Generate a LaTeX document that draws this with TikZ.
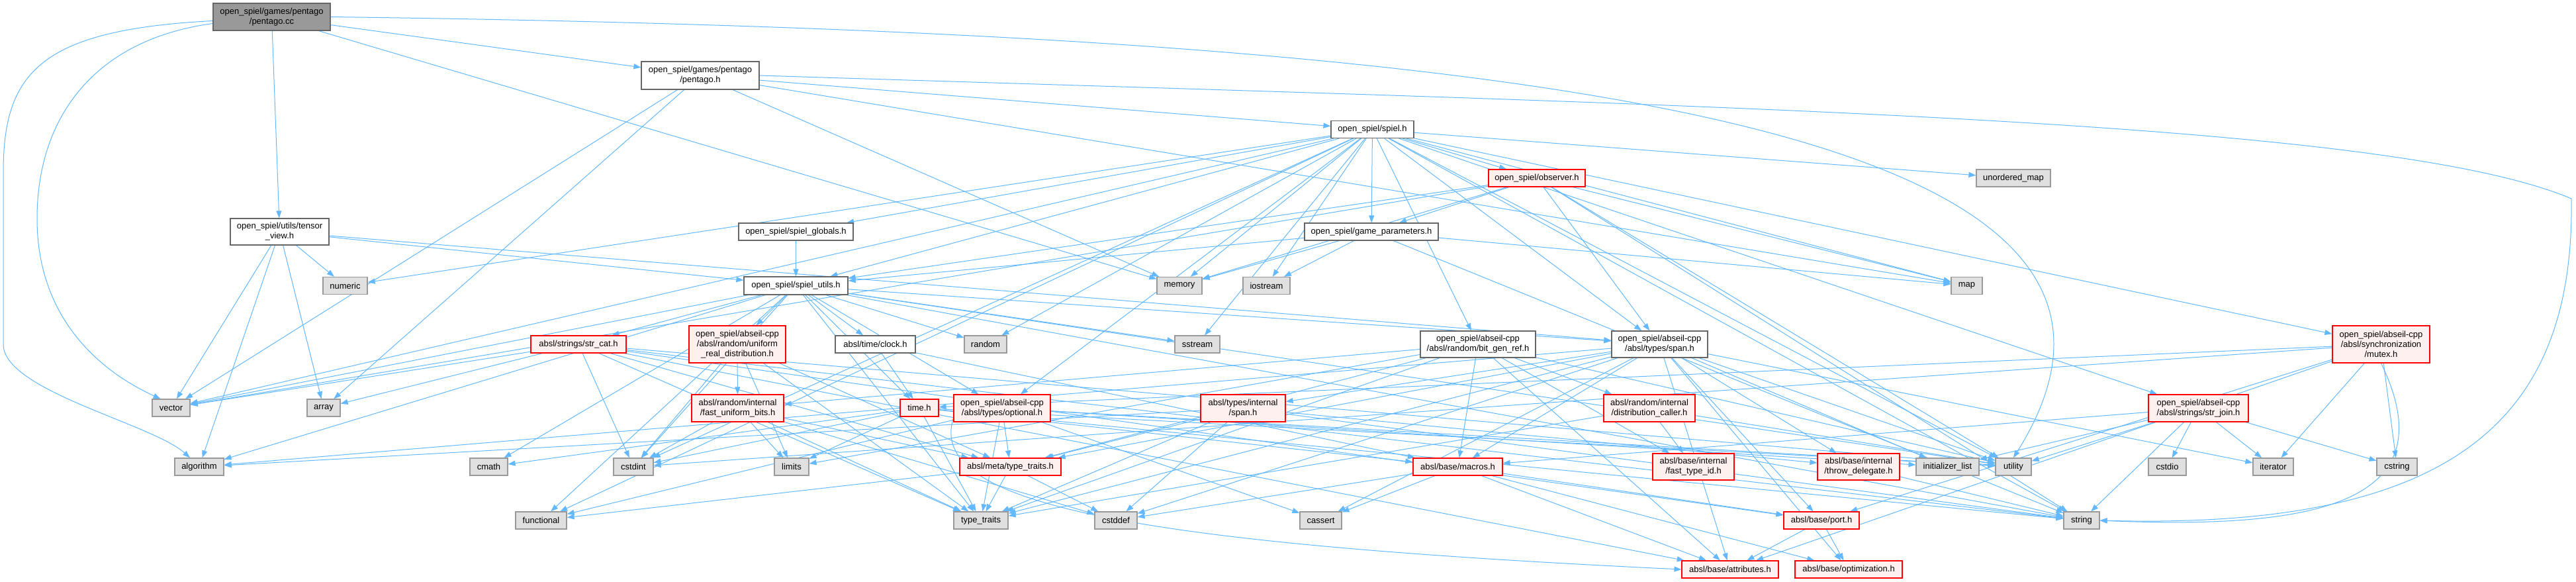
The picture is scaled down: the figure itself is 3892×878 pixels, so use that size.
\documentclass[tikz,border=0pt]{standalone}
\usepackage{fontspec}
\setmainfont{Liberation Sans}
\usetikzlibrary{arrows.meta,backgrounds}
\definecolor{edgec}{HTML}{63B8FF}
\definecolor{sysfill}{HTML}{E0E0E0}
\definecolor{sysdraw}{HTML}{999999}
\definecolor{redfill}{HTML}{FFF0F0}
\definecolor{reddraw}{HTML}{FF0000}
\definecolor{docdraw}{HTML}{666666}
\definecolor{rootfill}{HTML}{999999}
\tikzset{
  box/.style={rectangle, inner sep=0pt, line width=1.2pt, font=\fontsize{13}{15}\selectfont, align=center},
  sysbox/.style={box, fill=sysfill, draw=sysdraw, minimum height=26pt},
  docbox/.style={box, fill=white, draw=docdraw},
  redbox/.style={box, fill=redfill, draw=reddraw},
  rootbox/.style={box, fill=rootfill, draw=docdraw},
  edge/.style={draw=edgec, line width=1pt, -{Triangle[length=11pt,width=8pt]}},
}
\begin{document}
\begin{tikzpicture}[x=1pt,y=-1pt]
\useasboundingbox (0,0) rectangle (3892,878);
% row 0
\node[rootbox, minimum width=177pt, minimum height=41pt] (pc) at (410.5,25.5) {open\_spiel/games/pentago\\/pentago.cc};
\node[docbox, minimum width=178pt, minimum height=42pt] (ph) at (1058,114) {open\_spiel/games/pentago\\/pentago.h};
\node[docbox, minimum width=125pt, minimum height=26pt] (sp) at (2073.5,195.5) {open\_spiel/spiel.h};
\node[redbox, minimum width=146pt, minimum height=26pt] (obs) at (2322,269) {open\_spiel/observer.h};
\node[sysbox, minimum width=112pt] (umap) at (3042,269) {unordered\_map};
% row 350
\node[docbox, minimum width=149pt, minimum height=40pt] (tv) at (422.5,350) {open\_spiel/utils/tensor\\\_view.h};
\node[docbox, minimum width=173pt, minimum height=26pt] (sglob) at (1202.5,350) {open\_spiel/spiel\_globals.h};
\node[docbox, minimum width=202pt, minimum height=26pt] (gp) at (2072,350) {open\_spiel/game\_parameters.h};
% row 432
\node[sysbox, minimum width=67pt] (numeric) at (521.5,431.5) {numeric};
\node[docbox, minimum width=157pt, minimum height=27pt] (su) at (1202.5,431.5) {open\_spiel/spiel\_utils.h};
\node[sysbox, minimum width=68pt] (mem) at (1782,431.5) {memory};
\node[sysbox, minimum width=71pt] (ios) at (1913.5,431.5) {iostream};
\node[sysbox, minimum width=47pt] (map) at (2971.5,431.5) {map};
% row 520
\node[redbox, minimum width=144pt, minimum height=26pt] (sc) at (874,520) {absl/strings/str\_cat.h};
\node[redbox, minimum width=146pt, minimum height=56pt] (urd) at (1114,520) {open\_spiel/abseil-cpp\\/absl/random/uniform\\\_real\_distribution.h};
\node[docbox, minimum width=121pt, minimum height=26pt] (clock) at (1322.5,520) {absl/time/clock.h};
\node[sysbox, minimum width=64pt] (rnd) at (1489,520) {random};
\node[sysbox, minimum width=68pt] (sstr) at (1809,520) {sstream};
\node[docbox, minimum width=174pt, minimum height=40pt] (bgr) at (2233,520) {open\_spiel/abseil-cpp\\/absl/random/bit\_gen\_ref.h};
\node[docbox, minimum width=145pt, minimum height=40pt] (tspan) at (2507.5,520) {open\_spiel/abseil-cpp\\/absl/types/span.h};
\node[redbox, minimum width=147pt, minimum height=56pt] (mtx) at (3597.5,520) {open\_spiel/abseil-cpp\\/absl/synchronization\\/mutex.h};
% row 616
\node[sysbox, minimum width=57pt] (vec) at (258.5,616) {vector};
\node[sysbox, minimum width=50pt] (arr) at (489,616) {array};
\node[redbox, minimum width=139pt, minimum height=41pt] (fub) at (1114.5,616.5) {absl/random/internal\\/fast\_uniform\_bits.h};
\node[redbox, minimum width=58pt, minimum height=26pt] (time) at (1389,616) {time.h};
\node[redbox, minimum width=146pt, minimum height=41pt] (opt) at (1514,616.5) {open\_spiel/abseil-cpp\\/absl/types/optional.h};
\node[redbox, minimum width=128pt, minimum height=41pt] (ispan) at (1878,616.5) {absl/types/internal\\/span.h};
\node[redbox, minimum width=138pt, minimum height=41pt] (dcall) at (2492,616.5) {absl/random/internal\\/distribution\_caller.h};
\node[redbox, minimum width=151pt, minimum height=41pt] (sjoin) at (3321.5,616.5) {open\_spiel/abseil-cpp\\/absl/strings/str\_join.h};
% row 705
\node[sysbox, minimum width=74pt] (alg) at (301,705) {algorithm};
\node[sysbox, minimum width=57pt] (cmath) at (738.5,705) {cmath};
\node[sysbox, minimum width=60pt] (cstdint) at (957,705) {cstdint};
\node[sysbox, minimum width=52pt] (limits) at (1196,705) {limits};
\node[redbox, minimum width=153pt, minimum height=26pt] (tmeta) at (1526.5,705) {absl/meta/type\_traits.h};
\node[redbox, minimum width=135pt, minimum height=26pt] (macros) at (2202.5,705) {absl/base/macros.h};
\node[redbox, minimum width=123pt, minimum height=40pt] (ftid) at (2558.5,705) {absl/base/internal\\/fast\_type\_id.h};
\node[redbox, minimum width=124pt, minimum height=40pt] (thr) at (2808,705) {absl/base/internal\\/throw\_delegate.h};
\node[sysbox, minimum width=95pt] (ilist) at (2942.5,705) {initializer\_list};
\node[sysbox, minimum width=54pt] (util) at (3042,705) {utility};
\node[sysbox, minimum width=57pt] (cstdio) at (3274.5,705) {cstdio};
\node[sysbox, minimum width=61pt] (iter) at (3434.5,705) {iterator};
\node[sysbox, minimum width=61pt] (cstring) at (3621.5,705) {cstring};
% row 786
\node[sysbox, minimum width=77pt] (func) at (817.5,786) {functional};
\node[sysbox, minimum width=82pt] (tt) at (1482,786) {type\_traits};
\node[sysbox, minimum width=64pt] (cstddef) at (1686,786) {cstddef};
\node[sysbox, minimum width=63pt] (cassert) at (1995.5,786) {cassert};
\node[redbox, minimum width=114pt, minimum height=26pt] (port) at (2752,786) {absl/base/port.h};
\node[sysbox, minimum width=54pt] (str) at (3145,786) {string};
% row 860
\node[redbox, minimum width=146pt, minimum height=26pt] (attr) at (2614,860) {absl/base/attributes.h};
\node[redbox, minimum width=162pt, minimum height=26pt] (optim) at (2793,860) {absl/base/optimization.h};

\begin{scope}[on background layer]
\coordinate (k2) at (3885,300);
\draw[edge] (pc.east) .. controls (2400,50) and (3350,200) .. (util.north);
\draw[edge] (ph.east) .. controls (2600,160) and (3600,180) .. (k2) .. controls (3890,640) and (3700,800) .. (str.east);
\draw[edge] ([yshift=-6pt]pc.west) .. controls (60,45) and (5,110) .. (5,260) -- (5,520) .. controls (5,590) and (230,640) .. ([xshift=-14pt]alg.north);
\draw[edge] ([yshift=-10pt]pc.west) .. controls (140,60) and (56,180) .. (56,330) .. controls (56,480) and (150,560) .. ([xshift=-16pt]vec.north);
\draw[edge] ([yshift=6pt]opt.south west) .. controls (1400,760) and (1700,820) .. (attr.west);
\draw[edge] (mtx.south) .. controls (3700,760) and (3500,800) .. (str.east);
\foreach \a/\b in {pc/ph, pc/tv, pc/mem,
  ph/sp, ph/mem, ph/map, ph/vec, ph/arr,
  tv/numeric, tv/arr, tv/vec, tv/su, tv/tspan, tv/alg,
  sp/sglob, sp/su, sp/gp, sp/obs, sp/mem, sp/ios, sp/rnd, sp/sstr, sp/bgr, sp/tspan, sp/opt, sp/sjoin, sp/mtx, sp/map, sp/umap, sp/str, sp/util, sp/vec, sp/func, sp/cstdint, sp/numeric,
  sglob/su,
  gp/su, gp/mem, gp/ios, gp/map, gp/str,
  obs/gp, obs/su, obs/mem, obs/vec, obs/tspan, obs/map, obs/str, obs/util,
  su/urd, su/sc, su/clock, su/rnd, su/sstr, su/opt, su/time, su/tspan, su/vec, su/alg, su/cmath, su/cstdint, su/func, su/tt, su/str, su/util,
  sc/arr, sc/cstdint, sc/str, sc/tt, sc/util, sc/vec, sc/attr, sc/port, sc/tmeta,
  urd/fub, urd/tmeta, urd/limits, urd/cstdint, urd/tt,
  fub/limits, fub/tmeta, fub/tt, fub/cstddef, fub/cstdint,
  clock/time, clock/macros,
  time/cmath, time/cstdint, time/limits, time/str, time/tt, time/util, time/macros,
  opt/func, opt/ilist, opt/tt, opt/util, opt/tmeta, opt/cassert,
  ispan/alg, ispan/cstddef, ispan/str, ispan/tt, ispan/thr, ispan/tmeta,
  tspan/alg, tspan/cassert, tspan/cstddef, tspan/ilist, tspan/iter, tspan/tt, tspan/util, tspan/attr, tspan/thr, tspan/macros, tspan/optim, tspan/port, tspan/tmeta, tspan/ispan,
  bgr/limits, bgr/tt, bgr/util, bgr/attr, bgr/ftid, bgr/macros, bgr/tmeta, bgr/dcall, bgr/fub,
  dcall/ftid, dcall/util, dcall/tt,
  macros/cassert, macros/cstddef, macros/attr, macros/optim, macros/port,
  thr/str, port/attr, port/optim,
  tmeta/cstddef, tmeta/func, tmeta/tt,
  sjoin/cstdio, sjoin/cstring, sjoin/ilist, sjoin/iter, sjoin/str, sjoin/util, sjoin/macros,
  mtx/cstdint, mtx/cstring, mtx/iter, mtx/attr, mtx/port, mtx/time}
  \draw[edge] (\a) -- (\b);
\end{scope}
\end{tikzpicture}
\end{document}
